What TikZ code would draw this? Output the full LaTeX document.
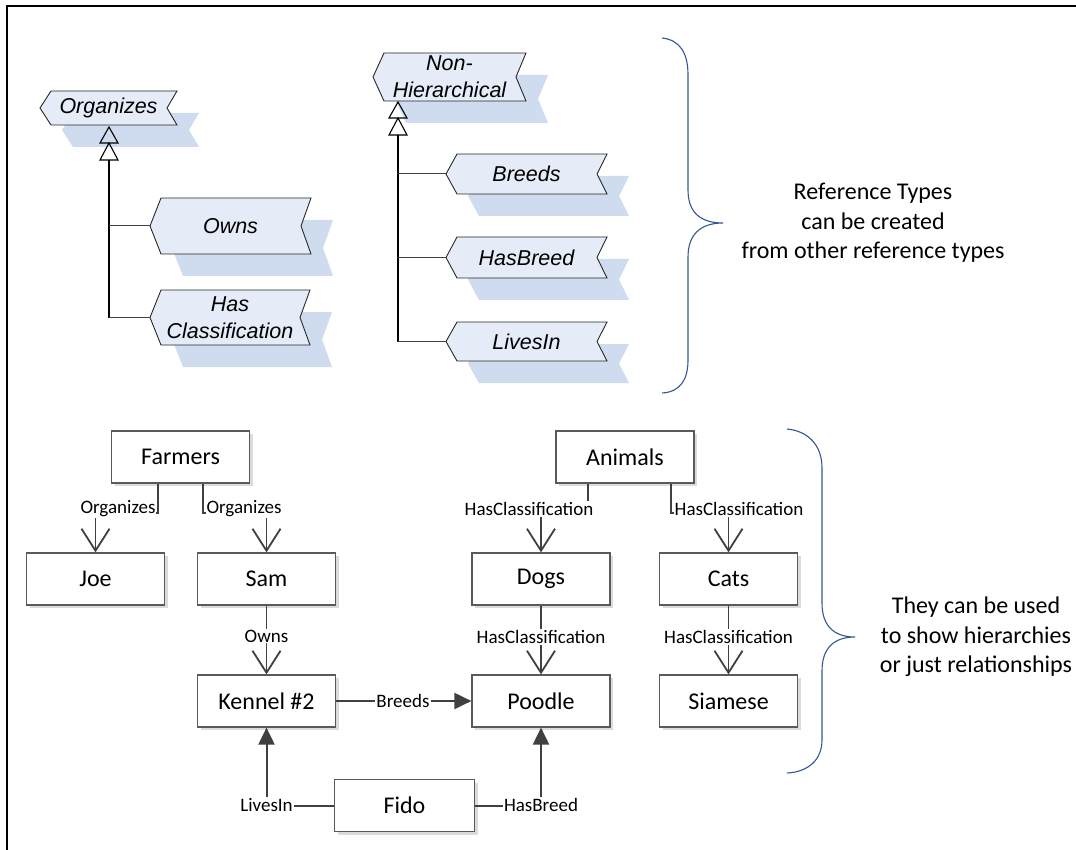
\documentclass[tikz,border=0pt]{standalone}
\usepackage{fontspec}
\setmainfont{Carlito}
\newfontfamily\arialfont{Liberation Sans}
\usetikzlibrary{arrows.meta,shadows}
\definecolor{flagfill}{RGB}{230,236,247}
\definecolor{flagshad}{RGB}{207,219,238}
\definecolor{braceblue}{RGB}{52,88,148}
\definecolor{conncol}{RGB}{64,64,64}
\definecolor{boxline}{RGB}{90,90,90}
\definecolor{flagline}{RGB}{40,40,40}

\newcommand\refflag[6]{%
  \fill[flagshad] ({#2+22},{(#4+#5)/2+22}) -- ({#2+33},{#4+22}) -- ({#3+22},{#4+22}) -- ({#3+12},{(#4+#5)/2+22}) -- ({#3+22},{#5+22}) -- ({#2+33},{#5+22}) -- cycle;
  \filldraw[flagpoly] (#2,{(#4+#5)/2}) -- ({#2+11},#4) -- (#3,#4) -- ({#3-10},{(#4+#5)/2}) -- (#3,#5) -- ({#2+11},#5) -- cycle;
  \node[flagtext] (#1) at ({(#2+#3)/2},{(#4+#5)/2}) {#6};
  \coordinate (#1-tip) at (#2,{(#4+#5)/2});
}

\begin{document}
\begin{tikzpicture}[x=1pt,y=-1pt,
  flagpoly/.style={fill=flagfill, draw=flagline, line width=0.9pt},
  flagtext/.style={font=\arialfont\itshape\fontsize{21.5}{27}\selectfont, align=center, inner sep=0pt},
  gentri/.style={draw=black, line width=1.1pt, line join=miter},
  trunk/.style={draw=black, line width=1.3pt},
  branch/.style={draw=black!75, line width=1pt},
  box/.style={draw=boxline, line width=1.2pt, fill=white, minimum width=138pt, minimum height=52pt,
    font=\fontsize{24}{29}\selectfont,
    drop shadow={shadow xshift=3pt, shadow yshift=-3pt, fill=black!14, opacity=1}},
  lbl/.style={fill=white, inner xsep=1pt, inner ysep=1pt, font=\fontsize{19}{22}\selectfont},
  openarr/.style={draw=conncol, line width=1.8pt, -{Straight Barb[length=22pt, width=28pt, line width=1.8pt]}},
  filledarr/.style={draw=conncol, line width=2pt, -{Triangle[length=17pt, width=16pt]}},
  brace/.style={draw=braceblue, line width=1.1pt},
  bigtext/.style={align=center, font=\fontsize{24}{29.5}\selectfont, inner sep=0pt}
]
\useasboundingbox (0,0) rectangle (1076,850);
\fill[white] (0,0) rectangle (1076,850);

% frame
\draw[line width=2.7pt] (7,850) -- (7,6) -- (1076,6);

% ---------- reference type flags ----------
\refflag{organizes}{40}{177}{91}{125}{Organizes}
\refflag{owns}{150}{311}{198}{254}{Owns}
\refflag{hascl}{150}{310}{290}{345}{Has\\Classification}
\refflag{nonhier}{373}{526}{53}{101}{Non-\\Hierarchical}
\refflag{breeds}{446}{607}{154}{194}{Breeds}
\refflag{hasbreed}{446}{607}{237}{278}{HasBreed}
\refflag{livesin}{446}{607}{322}{361}{LivesIn}

% Organizes hierarchy
\coordinate (org-t1) at (109,127);
\coordinate (org-t2) at (109,143);
\coordinate (org-base) at (109,160);
\draw[gentri] (org-t1) -- ++(-9,16) -- ++(18,0) -- cycle;
\draw[gentri] (org-t2) -- ++(-9,17) -- ++(18,0) -- cycle;
\draw[trunk] (org-base) -- (org-base |- hascl-tip);
\draw[branch] (org-base |- owns-tip) -- (owns-tip);
\draw[branch] (org-base |- hascl-tip) -- (hascl-tip);

% Non-Hierarchical hierarchy
\coordinate (nh-t1) at (398,102);
\coordinate (nh-t2) at (398,118);
\coordinate (nh-base) at (398,135);
\draw[gentri] (nh-t1) -- ++(-9,16) -- ++(18,0) -- cycle;
\draw[gentri] (nh-t2) -- ++(-9,17) -- ++(18,0) -- cycle;
\draw[trunk] (nh-base) -- (nh-base |- livesin-tip);
\draw[branch] (nh-base |- breeds-tip) -- (breeds-tip);
\draw[branch] (nh-base |- hasbreed-tip) -- (hasbreed-tip);
\draw[branch] (nh-base |- livesin-tip) -- (livesin-tip);

% braces and texts
\draw[brace] (662,38) .. controls (680,40) and (688,53) .. (688,75) -- (688,190)
  .. controls (688,212) and (700,223) .. (723,223)
  .. controls (700,223) and (688,235) .. (688,257) -- (688,360)
  .. controls (688,380) and (680,392) .. (662,393);
\node[bigtext] (reftxt) at (873,223) {Reference Types\\can be created\\from other reference types};

\draw[brace] (787,429) .. controls (808,431) and (822,445) .. (822,468) -- (822,603)
  .. controls (822,625) and (833,637) .. (855,637)
  .. controls (833,637) and (822,649) .. (822,671) -- (822,740)
  .. controls (822,760) and (808,772) .. (787,773);
\node[bigtext] (usetxt) at (976,637) {They can be used\\to show hierarchies\\or just relationships};

% ---------- instance boxes ----------
\node[box] (farmers) at (180.5,457) {Farmers};
\node[box] (joe) at (95.5,579) {Joe};
\node[box] (sam) at (266.5,579) {Sam};
\node[box] (kennel) at (266.5,701) {Kennel \#2};
\node[box] (poodle) at (541,701) {Poodle};
\node[box, minimum width=140pt] (fido) at (404.5,805.5) {Fido};
\node[box] (animals) at (625,457) {Animals};
\node[box] (dogs) at (541,579) {Dogs};
\node[box] (cats) at (728.5,579) {Cats};
\node[box] (siamese) at (728.5,701) {Siamese};

% connectors
\draw[openarr] ([xshift=-22.5pt]farmers.south) -- ++(0,29) -| (joe.north);
\node[lbl] (l-org1) at (118,509) {Organizes};
\draw[openarr] ([xshift=22.5pt]farmers.south) -- ++(0,29) -| (sam.north);
\node[lbl] (l-org2) at (244,509) {Organizes};

\draw[openarr] ([xshift=-37pt]animals.south) -- ++(0,29) -| (dogs.north);
\node[lbl] (l-hc1) at (529,509) {HasClassification};
\draw[openarr] ([xshift=46pt]animals.south) -- ++(0,29) -| (cats.north);
\node[lbl] (l-hc2) at (739,509) {HasClassification};

\draw[openarr] (sam.south) -- (kennel.north);
\node[lbl] (l-owns) at (266.5,636) {Owns};
\draw[openarr] (dogs.south) -- (poodle.north);
\node[lbl] (l-hc3) at (541,637) {HasClassification};
\draw[openarr] (cats.south) -- (siamese.north);
\node[lbl] (l-hc4) at (728.5,637) {HasClassification};

\draw[filledarr] (kennel.east) -- (poodle.west);
\node[lbl] (l-breeds) at (403,701) {Breeds};
\draw[filledarr] (fido.west) -| (kennel.south);
\node[lbl] (l-lives) at (266.5,805) {LivesIn};
\draw[filledarr] (fido.east) -| (poodle.south);
\node[lbl] (l-hasbreed) at (541,805) {HasBreed};
\end{tikzpicture}
\end{document}
